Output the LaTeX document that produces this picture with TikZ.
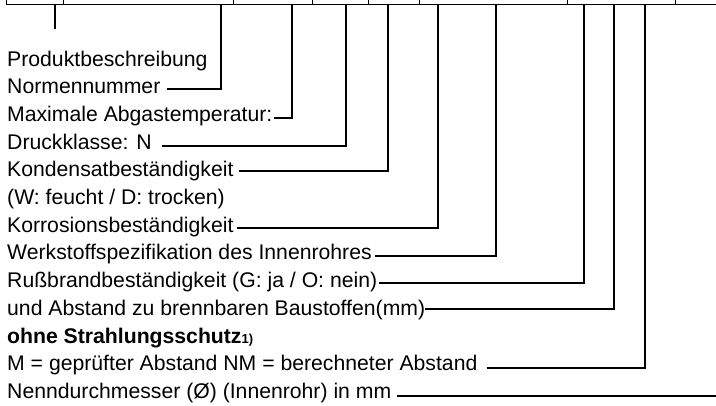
\documentclass[tikz,border=0pt]{standalone}
\usepackage{fontspec}
\setmainfont{Liberation Sans}
\begin{document}
\begin{tikzpicture}[x=1pt,y=-1pt,
  lbl/.style={anchor=base west, inner sep=0pt, font=\fontsize{21.2}{24}\selectfont},
  leader/.style={line width=1.6pt},
  rim/.style={line width=1pt}]
\useasboundingbox (0,0) rectangle (716,405);
% top rim of the table
\draw[rim] (6,4) -- (716,4);
\foreach \x in {6,63,233,312,368,419,567,675} \draw[rim] (\x,0) -- (\x,4);
% labels
\node[lbl] (prod) at (7,66) {Produktbeschreibung};
\node[lbl] (norm) at (7,93.7) {Normennummer};
\node[lbl] (maxt) at (7,121.4) {Maximale Abgastemperatur:};
\node[lbl] (druck) at (7,149.1) {Druckklasse: N};
\node[lbl] (kond) at (7,176.8) {Kondensatbeständigkeit};
\node[lbl] (wd) at (7,204.5) {(W: feucht / D: trocken)};
\node[lbl] (korr) at (7,232.2) {Korrosionsbeständigkeit};
\node[lbl] (werk) at (7,259.9) {Werkstoffspezifikation des Innenrohres};
\node[lbl] (russ) at (7,287.6) {Rußbrandbeständigkeit (G: ja / O: nein)};
\node[lbl] (abst) at (7,315.3) {und Abstand zu brennbaren Baustoffen(mm)};
\node[lbl] (ohne) at (7,343) {\bfseries ohne Strahlungsschutz{\fontsize{13}{15}\selectfont 1)}};
\node[lbl] (mnm) at (7,370.7) {M = geprüfter Abstand NM = berechneter Abstand};
\node[lbl] (nenn) at (7,398.4) {Nenndurchmesser (Ø) (Innenrohr) in mm};
% top ends of leaders
\coordinate (t1) at (55,4);
\coordinate (b1) at (55,29);
\coordinate (t2) at (221,4);
\coordinate (t3) at (292,4);
\coordinate (t4) at (346,4);
\coordinate (t5) at (388,4);
\coordinate (t6) at (438,4);
\coordinate (t7) at (496,4);
\coordinate (t8) at (584,4);
\coordinate (t9) at (614,4);
\coordinate (t10) at (645,4);
\coordinate (e11) at (716,396);
% leaders
\draw[leader] (t1) -- (b1);
\draw[leader] (norm.east |- 0,89) ++(6,0) -| (t2);
\draw[leader] (maxt.east |- 0,118) ++(1,0) -| (t3);
\draw[leader] (druck.east |- 0,146) ++(10,0) -| (t4);
\draw[leader] (kond.east |- 0,171) ++(5,0) -| (t5);
\draw[leader] (korr.east |- 0,228) ++(3,0) -| (t6);
\draw[leader] (werk.east |- 0,256) ++(3,0) -| (t7);
\draw[leader] (russ.east |- 0,283) ++(2,0) -| (t8);
\draw[leader] (abst.east |- 0,309) ++(0,0) -| (t9);
\draw[leader] (mnm.east |- 0,368) ++(9,0) -| (t10);
\draw[leader] (nenn.east |- 0,396) ++(6,0) -- (e11);
\end{tikzpicture}
\end{document}
